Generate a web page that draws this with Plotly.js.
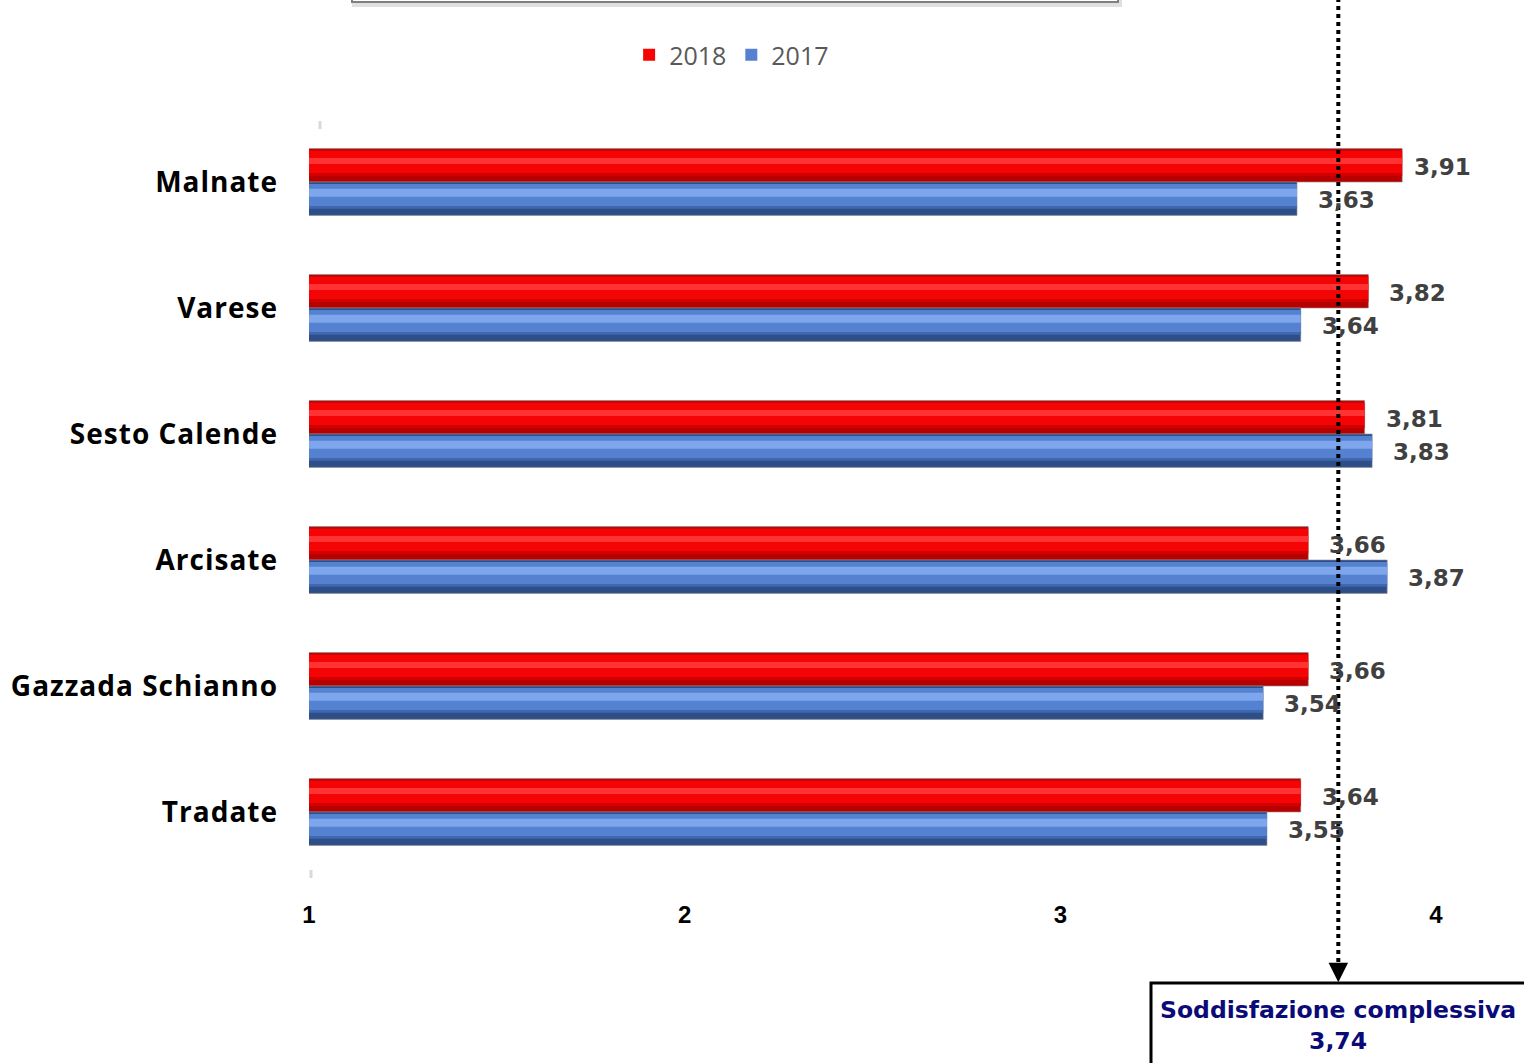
<!DOCTYPE html>
<html><head><meta charset="utf-8">
<script src="https://cdn.plot.ly/plotly-3.0.1.min.js"></script>
<style>html,body{margin:0;padding:0;background:#fff;}#chart{width:1524px;height:1063px;}
.ytick text{letter-spacing:1px;}</style>
</head><body><div id="chart"></div>
<script>
const categories = ["Malnate","Varese","Sesto Calende","Arcisate","Gazzada Schianno","Tradate"];
const values2018 = [3.91,3.82,3.81,3.66,3.66,3.64];
const values2017 = [3.63,3.64,3.83,3.87,3.54,3.55];
const seriesNames = ["2018","2017"];
const overallLabel = "Soddisfazione complessiva";
const overallValue = 3.74;
const xTicks = [1,2,3,4];

const fmt = v => v.toFixed(2).replace('.', ',');

const M = {l:309, r:88, t:119, b:188};
const W = 1524, H = 1063;
const plotW = W - M.l - M.r;
const BW = 0.265; // bar thickness in category units

// layered bars to imitate the bevelled look: [from, to, color, outline]
function layers(name, values, side, styles, rank){
  return styles.map((s, k) => ({
    type:'bar', orientation:'h', name:name, y:categories, x:values,
    offset:(side < 0 ? -BW : 0) + s[0]*BW, width:(s[1]-s[0])*BW,
    marker:{color:s[2], line:{color:s[3] || 'rgba(0,0,0,0)', width:s[3] ? 1 : 0}},
    showlegend:k === 1, legendrank:rank, hoverinfo:'x+y'
  }));
}
const redStyles = [[0,1,'#B80000','rgba(140,140,140,0.6)'],[0.06,0.74,'#F40404'],[0.28,0.46,'#FF3333'],[0.74,0.82,'#D40000']];
const blueStyles = [[0,1,'#2E4E8A','rgba(140,140,140,0.6)'],[0.06,0.72,'#5482D0'],[0.2,0.44,'#7DA6EC'],[0.72,0.8,'#4168AE']];

const traces = [
  ...layers(seriesNames[0], values2018, -1, redStyles, 1),
  ...layers(seriesNames[1], values2017, 1, blueStyles, 2)
];

const annotations = [];
const labelFont = {family:'DejaVu Sans', size:23, color:'#404040', weight:'bold'};
const pxOf = v => M.l + (v - 1) / 3 * plotW;
const shiftFor = v => Math.min(19, 1470 - 58 - pxOf(v));
categories.forEach((c,i)=>{
  annotations.push({x:values2018[i], y:c, xref:'x', yref:'y', text:fmt(values2018[i]), showarrow:false,
    xanchor:'left', yanchor:'middle', xshift:shiftFor(values2018[i]), yshift:15, font:labelFont});
  annotations.push({x:values2017[i], y:c, xref:'x', yref:'y', text:fmt(values2017[i]), showarrow:false,
    xanchor:'left', yanchor:'middle', xshift:shiftFor(values2017[i]), yshift:-18, font:labelFont});
});
// arrow head at the bottom of the dotted line
annotations.push({x:overallValue, xref:'x', y:-0.142, yref:'paper', ax:0, ay:-14, axref:'pixel', ayref:'pixel',
  text:'', showarrow:true, arrowhead:2, arrowsize:1.3, arrowwidth:3, arrowcolor:'#000'});
// overall box text
annotations.push({x:overallValue, xref:'x', y:-0.1985, yref:'paper', yanchor:'middle', xanchor:'center',
  text:'<b>'+overallLabel+'</b><br><b>'+fmt(overallValue)+'</b>', showarrow:false,
  font:{family:'DejaVu Sans', size:23.5, color:'#0A0A78'}});

const py = p => (H - M.b - p) / (H - M.t - M.b); // pixel row -> paper y
const pxp = p => (p - M.l) / plotW;              // pixel col -> paper x

const layout = {
  width:W, height:H, margin:M,
  paper_bgcolor:'#fff', plot_bgcolor:'#fff',
  barmode:'overlay',
  showlegend:true,
  legend:{orientation:'h', x:0.375, xanchor:'center', y:py(55), yanchor:'middle',
    font:{family:'Open Sans', size:25, color:'#595959'}, traceorder:'normal', itemwidth:30},
  xaxis:{range:[1,4], tickvals:xTicks, ticktext:xTicks.map(String), showgrid:false, zeroline:false,
    showline:false, ticks:'', ticklabelstandoff:23,
    tickfont:{family:'Liberation Sans', size:24, color:'#000', weight:'bold'}},
  yaxis:{autorange:'reversed', showgrid:false, showline:false, ticks:'', ticklabelstandoff:30,
    tickfont:{family:'Open Sans', size:28, color:'#000', weight:'bold'}},
  shapes:[
    {type:'line', xref:'x', yref:'paper', x0:overallValue, x1:overallValue, y0:1.16, y1:-0.128,
     line:{color:'#000', width:4, dash:'dot'}},
    {type:'rect', xref:'paper', yref:'paper', x0:pxp(1151), x1:pxp(1530), y0:py(1070), y1:py(983),
     line:{color:'#000', width:3}, fillcolor:'rgba(0,0,0,0)'},
    {type:'rect', xref:'paper', yref:'paper', x0:pxp(354), x1:pxp(1120), y0:py(5), y1:1.25,
     line:{color:'rgba(0,0,0,0.12)', width:4}, fillcolor:'rgba(0,0,0,0)'},
    {type:'rect', xref:'paper', yref:'paper', x0:pxp(352), x1:pxp(1118), y0:py(2), y1:1.25,
     line:{color:'#808080', width:2}, fillcolor:'#fff'},
    {type:'line', xref:'paper', yref:'paper', x0:pxp(320), x1:pxp(320), y0:py(121), y1:py(129),
     line:{color:'#d9d9d9', width:3}},
    {type:'line', xref:'paper', yref:'paper', x0:pxp(311), x1:pxp(311), y0:py(870), y1:py(878),
     line:{color:'#d9d9d9', width:3}}
  ],
  annotations:annotations
};
Plotly.newPlot('chart', traces, layout, {displayModeBar:false, staticPlot:true});
</script></body></html>
